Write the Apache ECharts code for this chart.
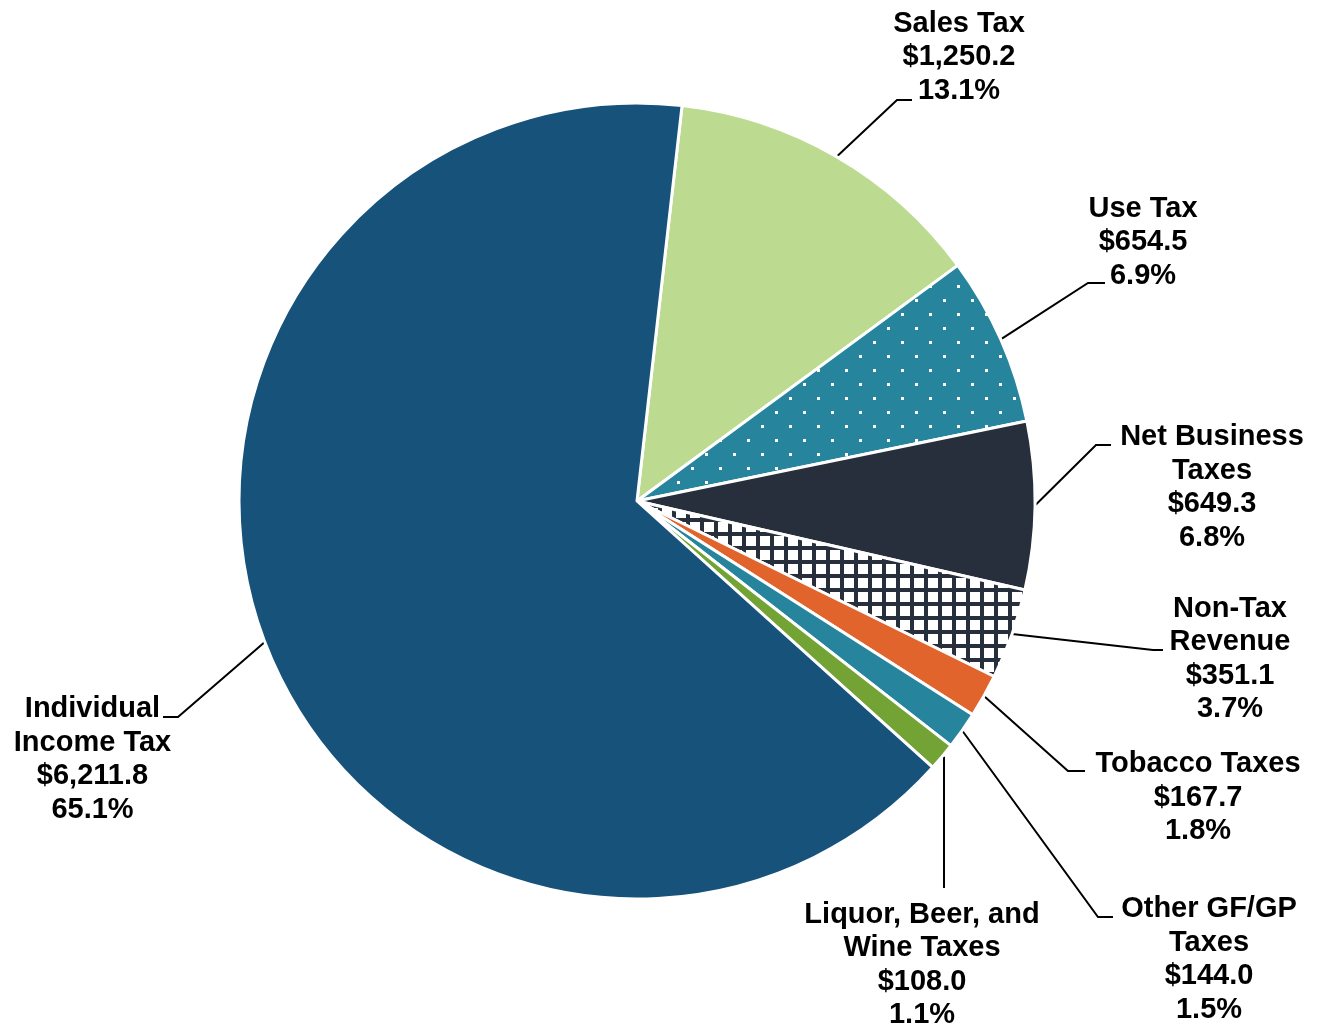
<!DOCTYPE html>
<html>
<head>
<meta charset="utf-8">
<script src="https://cdn.jsdelivr.net/npm/echarts@6/dist/echarts.min.js"></script>
<style>
html,body{margin:0;padding:0;background:#fff;}
#chart{width:1321px;height:1029px;}
</style>
</head>
<body>
<div id="chart"></div>
<script>
// ---- data ----
const categories = ['Sales Tax','Use Tax','Net Business Taxes','Non-Tax Revenue','Tobacco Taxes','Other GF/GP Taxes','Liquor, Beer, and Wine Taxes','Individual Income Tax'];
const values = [1250.2, 654.5, 649.3, 351.1, 167.7, 144.0, 108.0, 6211.8];
const labelNames = ['Sales Tax','Use Tax','Net Business\nTaxes','Non-Tax\nRevenue','Tobacco Taxes','Other GF/GP\nTaxes','Liquor, Beer, and\nWine Taxes','Individual\nIncome Tax'];

// ---- styling / layout ----
const TEAL = '#26859D', DARK = '#282F3C';
function dotPattern() {
  const c = document.createElement('canvas'); c.width = 28; c.height = 28;
  const g = c.getContext('2d');
  g.fillStyle = TEAL; g.fillRect(0,0,28,28);
  g.fillStyle = '#ffffff';
  g.fillRect(5,5,3,3); g.fillRect(19,19,3,3);
  return c;
}
function gridPattern() {
  const c = document.createElement('canvas'); c.width = 14; c.height = 14;
  const g = c.getContext('2d');
  g.fillStyle = '#ffffff'; g.fillRect(0,0,14,14);
  g.fillStyle = DARK;
  g.fillRect(0,0,14,4); g.fillRect(0,0,4,14);
  return c;
}
const fills = [
  '#BCDB91',
  {image: dotPattern(), repeat: 'repeat'},
  DARK,
  {image: gridPattern(), repeat: 'repeat'},
  '#E2642D',
  TEAL,
  '#74A335',
  '#17527B'
];
// label block centers and leader-line bends (pixels)
const labelPos = [[959,57],[1143,242],[1212,487.5],[1230,659],[1198,797.5],[1209,959.5],[922,965],[92.5,759.5]];
const lineBends = [
  [[897,100],[912,100]],
  [[1088,283],[1105,283]],
  [[1096,445],[1111,445]],
  [[1153,650],[1163,650]],
  [[1068,771],[1085,771]],
  [[1098,917],[1113,917]],
  [[944,888]],
  [[178,717],[163,717]]
];

const fmt = v => '$' + v.toLocaleString('en-US',{minimumFractionDigits:1, maximumFractionDigits:1});

const chart = echarts.init(document.getElementById('chart'), null, {renderer:'canvas'});
chart.setOption({
  animation: false,
  backgroundColor: '#ffffff',
  series: [{
    type: 'pie',
    center: [637, 501],
    radius: 398,
    startAngle: 83.5,
    clockwise: true,
    percentPrecision: 1,
    avoidLabelOverlap: false,
    data: categories.map((n,i) => ({name: n, value: values[i], itemStyle: {color: fills[i]}})),
    itemStyle: {borderColor: '#ffffff', borderWidth: 3},
    label: {
      show: true,
      position: 'outside',
      formatter: p => labelNames[p.dataIndex] + '\n' + fmt(p.value) + '\n' + p.percent.toFixed(1) + '%',
      fontFamily: 'Liberation Sans, Arial, sans-serif',
      fontWeight: 'bold',
      fontSize: 29,
      lineHeight: 33.5,
      color: '#000000',
      align: 'center'
    },
    labelLine: {show: true, lineStyle: {color: '#000000', width: 2}},
    emphasis: {disabled: true},
    labelLayout: function (params) {
      const i = params.dataIndex;
      const p0 = params.labelLinePoints ? params.labelLinePoints[0] : null;
      const pts = [];
      if (p0) {
        if (i === 6) pts.push([lineBends[6][0][0], p0[1]]);
        else pts.push([p0[0], p0[1]]);
      }
      lineBends[i].forEach(b => pts.push(b));
      return {
        x: labelPos[i][0],
        y: labelPos[i][1],
        align: 'center',
        verticalAlign: 'middle',
        labelLinePoints: pts
      };
    }
  }]
});
</script>
</body>
</html>
